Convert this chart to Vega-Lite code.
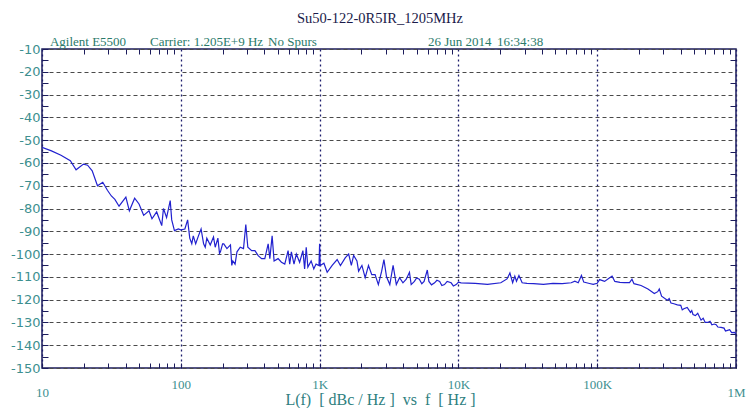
{
  "$schema": "https://vega.github.io/schema/vega-lite/v6.json",
  "width": 694,
  "height": 319,
  "autosize": "none",
  "padding": {"left": 42, "top": 49, "right": 20, "bottom": 40},
  "background": "white",
  "title": {
    "text": "Su50-122-0R5IR_1205MHz",
    "font": "Liberation Serif",
    "fontSize": 14.5,
    "fontWeight": "normal",
    "color": "#1a1a4a",
    "anchor": "middle",
    "frame": "group",
    "dx": -9,
    "offset": 10
  },
  "config": {
    "view": {"stroke": "#1c1c5c", "strokeWidth": 1.5},
    "axis": {"domain": false}
  },
  "resolve": {"axis": {"x": "independent", "y": "independent"}},
  "layer": [
    {
      "data": {
        "values": [
          {"f": 10, "L": -53.2}, {"f": 11.7, "L": -54.7}, {"f": 13.7, "L": -56.6}, {"f": 16, "L": -59},
          {"f": 17.6, "L": -63}, {"f": 19.9, "L": -60.5}, {"f": 21.3, "L": -61}, {"f": 23, "L": -63.5},
          {"f": 25.1, "L": -70}, {"f": 27.4, "L": -68.5}, {"f": 29.6, "L": -72}, {"f": 31.6, "L": -74.5},
          {"f": 33.5, "L": -76}, {"f": 35.9, "L": -79}, {"f": 40.2, "L": -75}, {"f": 42.6, "L": -81},
          {"f": 46.5, "L": -75.5}, {"f": 50, "L": -78}, {"f": 54, "L": -83}, {"f": 59, "L": -81},
          {"f": 62, "L": -84.5}, {"f": 67, "L": -81.5}, {"f": 72.9, "L": -87.5}, {"f": 75, "L": -80},
          {"f": 79, "L": -84}, {"f": 83.9, "L": -76.5}, {"f": 86, "L": -85}, {"f": 90, "L": -89.7},
          {"f": 96, "L": -89}, {"f": 100, "L": -89.4}, {"f": 107, "L": -89}, {"f": 112, "L": -85},
          {"f": 116, "L": -93}, {"f": 120, "L": -95.5}, {"f": 123, "L": -92}, {"f": 128, "L": -95.5},
          {"f": 134, "L": -92}, {"f": 140, "L": -89}, {"f": 146, "L": -95.5}, {"f": 150, "L": -97},
          {"f": 154, "L": -93}, {"f": 163, "L": -96}, {"f": 172, "L": -92.5}, {"f": 177, "L": -97},
          {"f": 185, "L": -93}, {"f": 190, "L": -99.7}, {"f": 193, "L": -99}, {"f": 200, "L": -95.5},
          {"f": 204, "L": -95.5}, {"f": 215, "L": -97.6}, {"f": 228, "L": -96}, {"f": 233, "L": -105},
          {"f": 237, "L": -103}, {"f": 246, "L": -104.4}, {"f": 254, "L": -99}, {"f": 268, "L": -97},
          {"f": 283, "L": -97.6}, {"f": 294, "L": -87}, {"f": 304, "L": -97}, {"f": 324, "L": -98.5},
          {"f": 342, "L": -98.5}, {"f": 361, "L": -100.7}, {"f": 382, "L": -102}, {"f": 403, "L": -102},
          {"f": 426, "L": -95.5}, {"f": 438, "L": -102}, {"f": 455, "L": -92}, {"f": 470, "L": -103},
          {"f": 502, "L": -102}, {"f": 531, "L": -103.6}, {"f": 561, "L": -104.4}, {"f": 593, "L": -98.5},
          {"f": 609, "L": -104.4}, {"f": 626, "L": -99}, {"f": 654, "L": -104.4}, {"f": 680, "L": -100},
          {"f": 718, "L": -103.6}, {"f": 758, "L": -98.5}, {"f": 780, "L": -106.5}, {"f": 801, "L": -97},
          {"f": 823, "L": -105.7}, {"f": 869, "L": -103}, {"f": 908, "L": -106.5}, {"f": 943, "L": -104.4},
          {"f": 990, "L": -105}, {"f": 1000, "L": -95.5}, {"f": 1010, "L": -105}, {"f": 1074, "L": -104},
          {"f": 1134, "L": -108}, {"f": 1232, "L": -105}, {"f": 1338, "L": -102.4}, {"f": 1413, "L": -105},
          {"f": 1533, "L": -101.6}, {"f": 1620, "L": -100}, {"f": 1693, "L": -105}, {"f": 1759, "L": -100.6},
          {"f": 1858, "L": -103}, {"f": 1910, "L": -107.5}, {"f": 2018, "L": -105}, {"f": 2130, "L": -110.4},
          {"f": 2250, "L": -105}, {"f": 2376, "L": -109}, {"f": 2510, "L": -109}, {"f": 2650, "L": -113.4},
          {"f": 2800, "L": -107.5}, {"f": 2907, "L": -102.4}, {"f": 3035, "L": -110}, {"f": 3205, "L": -113.4},
          {"f": 3385, "L": -105}, {"f": 3570, "L": -113.4}, {"f": 3770, "L": -110.4}, {"f": 3985, "L": -112.6},
          {"f": 4210, "L": -111}, {"f": 4440, "L": -108}, {"f": 4570, "L": -113.4}, {"f": 4820, "L": -112},
          {"f": 5000, "L": -110.5}, {"f": 5230, "L": -111}, {"f": 5450, "L": -113}, {"f": 5660, "L": -112},
          {"f": 5970, "L": -107}, {"f": 6130, "L": -112}, {"f": 6400, "L": -113.5}, {"f": 6740, "L": -112.6},
          {"f": 7000, "L": -111.5}, {"f": 7330, "L": -112}, {"f": 7600, "L": -113.8}, {"f": 7940, "L": -113.4},
          {"f": 8300, "L": -112}, {"f": 8860, "L": -112.6}, {"f": 9200, "L": -114}, {"f": 9640, "L": -113.4},
          {"f": 10000, "L": -112.3}, {"f": 10450, "L": -112.6}, {"f": 13200, "L": -112.9}, {"f": 16200, "L": -113.3},
          {"f": 20200, "L": -112.6}, {"f": 22400, "L": -110.9}, {"f": 23500, "L": -108.3}, {"f": 24600, "L": -112.6},
          {"f": 25500, "L": -109.7}, {"f": 26200, "L": -111.9}, {"f": 27300, "L": -109.4}, {"f": 28800, "L": -112.6},
          {"f": 31200, "L": -112.9}, {"f": 34800, "L": -113}, {"f": 41000, "L": -113.3}, {"f": 48000, "L": -112.9},
          {"f": 56000, "L": -113}, {"f": 65000, "L": -112.6}, {"f": 69000, "L": -111.9}, {"f": 73000, "L": -112.6},
          {"f": 77000, "L": -109.4}, {"f": 80000, "L": -112.3}, {"f": 88000, "L": -112.9}, {"f": 93600, "L": -113.3},
          {"f": 100000, "L": -112.8}, {"f": 104000, "L": -111.2}, {"f": 113000, "L": -112}, {"f": 123000, "L": -110.4},
          {"f": 128000, "L": -109.7}, {"f": 134000, "L": -112}, {"f": 146000, "L": -112.4}, {"f": 157000, "L": -112.5},
          {"f": 171000, "L": -112.5}, {"f": 178000, "L": -111}, {"f": 184000, "L": -113}, {"f": 207000, "L": -113.8},
          {"f": 232000, "L": -115.3}, {"f": 258000, "L": -117.3}, {"f": 273000, "L": -116.5}, {"f": 280000, "L": -115.3},
          {"f": 291000, "L": -118.5}, {"f": 320000, "L": -120.3}, {"f": 330000, "L": -119.5}, {"f": 340000, "L": -121.5},
          {"f": 357000, "L": -121.8}, {"f": 378000, "L": -122.3}, {"f": 400000, "L": -122.5}, {"f": 410000, "L": -124.5},
          {"f": 421000, "L": -124}, {"f": 445000, "L": -123.4}, {"f": 470000, "L": -125.6}, {"f": 480000, "L": -124.8},
          {"f": 490000, "L": -126.5}, {"f": 510000, "L": -127}, {"f": 530000, "L": -126}, {"f": 560000, "L": -129},
          {"f": 580000, "L": -128.2}, {"f": 600000, "L": -130}, {"f": 625000, "L": -130}, {"f": 650000, "L": -129.5},
          {"f": 670000, "L": -131}, {"f": 698000, "L": -130.7}, {"f": 720000, "L": -131}, {"f": 740000, "L": -132},
          {"f": 780000, "L": -132.2}, {"f": 820000, "L": -132.5}, {"f": 840000, "L": -133.8}, {"f": 870000, "L": -133.5},
          {"f": 900000, "L": -133.2}, {"f": 930000, "L": -134.5}, {"f": 975000, "L": -134.4}, {"f": 1000000, "L": -135}
        ]
      },
      "mark": {"type": "line", "color": "#2121cf", "strokeWidth": 1.2, "clip": true},
      "encoding": {
        "x": {
          "field": "f",
          "type": "quantitative",
          "scale": {"type": "log", "domain": [10, 1000000]},
          "axis": {
            "orient": "bottom",
            "values": [10, 20, 30, 40, 50, 60, 70, 80, 90, 100, 200, 300, 400, 500, 600, 700, 800, 900, 1000, 2000, 3000, 4000, 5000, 6000, 7000, 8000, 9000, 10000, 20000, 30000, 40000, 50000, 60000, 70000, 80000, 90000, 100000, 200000, 300000, 400000, 500000, 600000, 700000, 800000, 900000, 1000000],
            "labelExpr": "datum.value == 10 ? '10' : datum.value == 100 ? '100' : datum.value == 1000 ? '1K' : datum.value == 10000 ? '10K' : datum.value == 100000 ? '100K' : datum.value == 1000000 ? '1M' : ''",
            "labelFont": "Liberation Serif",
            "labelFontSize": 13,
            "labelColor": "#3d8f8f",
            "labelFlush": false,
            "labelOverlap": false,
            "labelBound": false,
            "labelPadding": {"condition": {"test": "datum.value == 10 || datum.value == 1000000", "value": 23}, "value": 15},
            "tickSize": -5,
            "tickColor": "#1c1c5c",
            "tickWidth": 1,
            "grid": true,
            "gridColor": "#1c1c6c",
            "gridDash": [2, 3],
            "gridWidth": 1.3,
            "gridOpacity": {"condition": {"test": "abs(log(datum.value)/LN10 - round(log(datum.value)/LN10)) < 0.001", "value": 1}, "value": 0},
            "title": "L(f)\u00a0\u00a0[ dBc / Hz ]\u00a0\u00a0vs\u00a0\u00a0f\u00a0\u00a0[ Hz ]",
            "titleFont": "Liberation Serif",
            "titleFontSize": 16,
            "titleFontWeight": "normal",
            "titleColor": "#2e8080",
            "titleX": 338,
            "titleY": 36,
            "titleBaseline": "alphabetic",
            "titleAnchor": "middle"
          }
        },
        "y": {
          "field": "L",
          "type": "quantitative",
          "scale": {"domain": [-150, -10], "nice": false, "zero": false},
          "axis": {
            "orient": "left",
            "values": [-150, -145, -140, -135, -130, -125, -120, -115, -110, -105, -100, -95, -90, -85, -80, -75, -70, -65, -60, -55, -50, -45, -40, -35, -30, -25, -20, -15, -10],
            "labelExpr": "datum.value % 10 == 0 ? '' + datum.value : ''",
            "labelFont": "DejaVu Sans",
            "labelFontSize": 13,
            "labelColor": "#3d8f8f",
            "labelPadding": 8,
            "labelFlush": false,
            "labelOverlap": false,
            "labelBound": false,
            "tickSize": -6,
            "tickColor": "#1c1c5c",
            "grid": true,
            "gridColor": "#4a4a4a",
            "gridDash": [4, 3],
            "gridWidth": 1,
            "gridOpacity": {"condition": {"test": "datum.value % 10 == 0", "value": 1}, "value": 0},
            "title": null
          }
        }
      }
    },
    {
      "data": {
        "values": [
          {"f": 11.4, "L": -10, "t": "Agilent E5500"},
          {"f": 60, "L": -10, "t": "Carrier: 1.205E+9 Hz"},
          {"f": 425, "L": -10, "t": "No Spurs"},
          {"f": 6040, "L": -10, "t": "26 Jun 2014"},
          {"f": 18970, "L": -10, "t": "16:34:38"}
        ]
      },
      "mark": {"type": "text", "align": "left", "baseline": "alphabetic", "dy": -3, "font": "Liberation Serif", "fontSize": 13, "color": "#2a7a6a"},
      "encoding": {
        "x": {
          "field": "f",
          "type": "quantitative",
          "axis": {
            "orient": "top",
            "values": [20, 30, 40, 50, 60, 70, 80, 90, 200, 300, 400, 500, 600, 700, 800, 900, 2000, 3000, 4000, 5000, 6000, 7000, 8000, 9000, 20000, 30000, 40000, 50000, 60000, 70000, 80000, 90000, 200000, 300000, 400000, 500000, 600000, 700000, 800000, 900000],
            "labels": false,
            "grid": false,
            "tickSize": -5,
            "tickColor": "#1c1c5c",
            "title": null
          }
        },
        "y": {
          "field": "L",
          "type": "quantitative",
          "axis": {
            "orient": "right",
            "values": [-145, -135, -125, -115, -105, -95, -85, -75, -65, -55, -45, -35, -25, -15],
            "labels": false,
            "grid": false,
            "tickSize": -6,
            "tickColor": "#1c1c5c",
            "title": null
          }
        },
        "text": {"field": "t"}
      }
    }
  ]
}
